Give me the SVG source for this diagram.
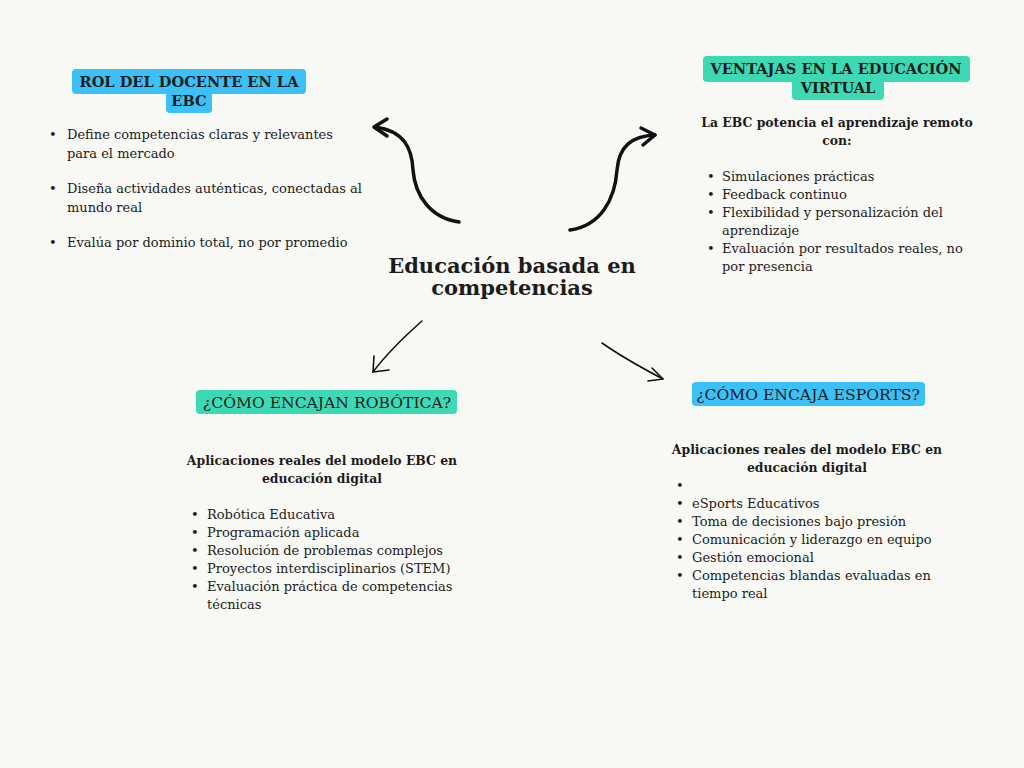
<svg xmlns="http://www.w3.org/2000/svg" width="1024" height="768" viewBox="0 0 1024 768">
<style>
.t{font-family:"DejaVu Serif","Liberation Serif",serif;fill:#1c1c1c}
.lbl{font-size:14.6px;font-weight:bold;text-anchor:middle}
.lbln{font-size:15.6px;text-anchor:middle}
.b{font-size:13px}
.h{font-size:12.4px;font-weight:bold;text-anchor:middle}
.blue{fill:#3bc1f8}
.green{fill:#3dd9b4}
.thick{fill:none;stroke:#111;stroke-width:3.5;stroke-linecap:round;stroke-linejoin:round}
.thin{fill:none;stroke:#111;stroke-width:1.6;stroke-linecap:round;stroke-linejoin:round}
</style>
<rect width="1024" height="768" fill="#f8f8f4"/>

<g id="center">
<text class="t" x="512" y="273" font-size="21" font-weight="bold" text-anchor="middle">Educación basada en</text>
<text class="t" x="512" y="295" font-size="21" font-weight="bold" text-anchor="middle">competencias</text>
</g>

<g id="rol-docente">
<rect class="blue" x="72" y="69" width="234" height="25" rx="4"/>
<rect class="blue" x="166" y="90" width="46" height="23" rx="4"/>
<text class="t lbl" x="189" y="87">ROL DEL DOCENTE EN LA</text>
<text class="t lbl" x="189" y="106">EBC</text>
<g class="t b">
<text x="49" y="139">•</text><text x="67" y="139">Define competencias claras y relevantes</text>
<text x="67" y="158">para el mercado</text>
<text x="49" y="193">•</text><text x="67" y="193">Diseña actividades auténticas, conectadas al</text>
<text x="67" y="212">mundo real</text>
<text x="49" y="247">•</text><text x="67" y="247">Evalúa por dominio total, no por promedio</text>
</g>
</g>

<g id="ventajas">
<rect class="green" x="703" y="56" width="267" height="26" rx="4"/>
<rect class="green" x="792" y="78" width="92" height="22" rx="4"/>
<text class="t lbl" x="836" y="74">VENTAJAS EN LA EDUCACIÓN</text>
<text class="t lbl" x="838" y="93">VIRTUAL</text>
<text class="t h" x="837" y="127">La EBC potencia el aprendizaje remoto</text>
<text class="t h" x="837" y="145">con:</text>
<g class="t b">
<text x="707" y="181">•</text><text x="722" y="181">Simulaciones prácticas</text>
<text x="707" y="199">•</text><text x="722" y="199">Feedback continuo</text>
<text x="707" y="217">•</text><text x="722" y="217">Flexibilidad y personalización del</text>
<text x="722" y="235">aprendizaje</text>
<text x="707" y="253">•</text><text x="722" y="253">Evaluación por resultados reales, no</text>
<text x="722" y="271">por presencia</text>
</g>
</g>

<g id="robotica">
<rect class="green" x="196" y="390" width="261" height="24" rx="4"/>
<text class="t lbln" x="327" y="408">¿CÓMO ENCAJAN ROBÓTICA?</text>
<text class="t h" x="322" y="465">Aplicaciones reales del modelo EBC en</text>
<text class="t h" x="322" y="483">educación digital</text>
<g class="t b">
<text x="191" y="519">•</text><text x="207" y="519">Robótica Educativa</text>
<text x="191" y="537">•</text><text x="207" y="537">Programación aplicada</text>
<text x="191" y="555">•</text><text x="207" y="555">Resolución de problemas complejos</text>
<text x="191" y="573">•</text><text x="207" y="573">Proyectos interdisciplinarios (STEM)</text>
<text x="191" y="591">•</text><text x="207" y="591"> Evaluación práctica de competencias</text>
<text x="207" y="609">técnicas</text>
</g>
</g>

<g id="esports">
<rect class="blue" x="692" y="382" width="233" height="24" rx="4"/>
<text class="t lbln" x="808" y="400">¿CÓMO ENCAJA ESPORTS?</text>
<text class="t h" x="807" y="454">Aplicaciones reales del modelo EBC en</text>
<text class="t h" x="807" y="472">educación digital</text>
<g class="t b">
<text x="676" y="490">•</text>
<text x="676" y="508">•</text><text x="692" y="508">eSports Educativos</text>
<text x="676" y="526">•</text><text x="692" y="526">Toma de decisiones bajo presión</text>
<text x="676" y="544">•</text><text x="692" y="544">Comunicación y liderazgo en equipo</text>
<text x="676" y="562">•</text><text x="692" y="562">Gestión emocional</text>
<text x="676" y="580">•</text><text x="692" y="580">Competencias blandas evaluadas en</text>
<text x="692" y="598">tiempo real</text>
</g>
</g>

<g id="connectors">
<path class="thick" d="M459,222 C430,218 415,195 413,170 C412,148 404,131 375,127"/>
<path class="thick" d="M387,119 L374,127 L387,136"/>
<path class="thick" d="M570,230 C600,226 615,200 617,170 C619,146 632,136 655,135"/>
<path class="thick" d="M641,128 L655,135 L643,145"/>
<path class="thin" d="M422,321 C405,336 388,352 373,372"/>
<path class="thin" d="M374,356 L373,372 L389,370"/>
<path class="thin" d="M602,343 C622,357 642,368 663,379"/>
<path class="thin" d="M652,368 L663,379 L648,381"/>
</g>
</svg>
